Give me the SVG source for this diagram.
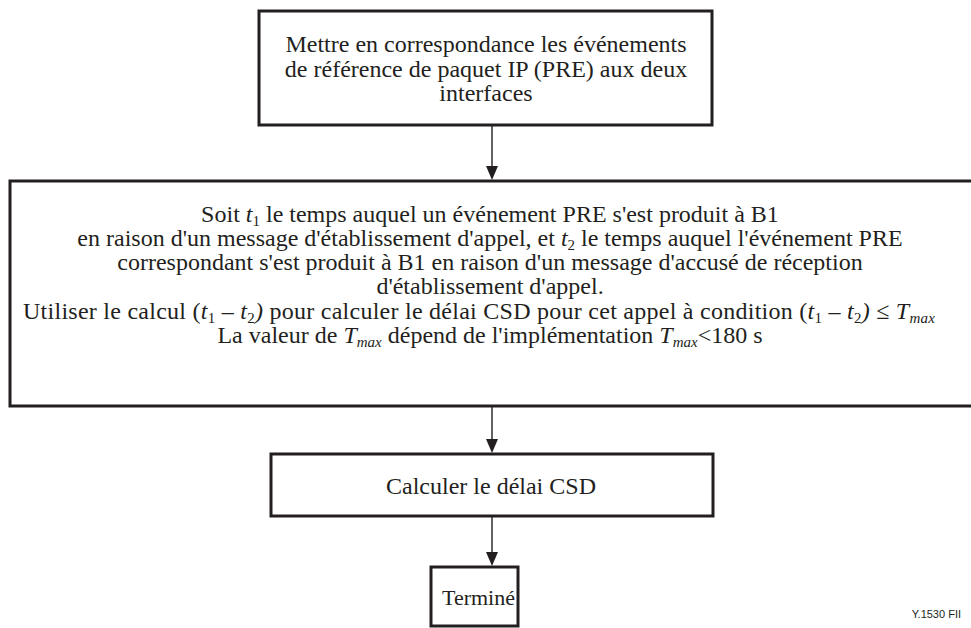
<svg xmlns="http://www.w3.org/2000/svg" width="971" height="628" viewBox="0 0 971 628">
<style>
.box{fill:#fff;stroke:#231f20;stroke-width:3}
.t{font-family:"Liberation Serif","Times New Roman","DejaVu Serif",serif;font-size:24px;fill:#231f20}
.c{text-anchor:middle}
.i{font-style:italic}
.s{font-size:15px}
.conn{stroke:#231f20;stroke-width:1.4;fill:none}
.ah{fill:#231f20}
</style>
<rect width="971" height="628" fill="#fff"/>
<g id="connectors">
<line class="conn" x1="492" y1="125" x2="492" y2="167"/>
<path class="ah" d="M486,166 L498,166 L492,180 Z"/>
<line class="conn" x1="492" y1="406" x2="492" y2="440"/>
<path class="ah" d="M486,439 L498,439 L492,453 Z"/>
<line class="conn" x1="492" y1="516" x2="492" y2="553"/>
<path class="ah" d="M486,552 L498,552 L492,566 Z"/>
</g>
<g id="node1">
<rect class="box" x="259" y="11" width="453" height="114"/>
<text class="t c" x="486" y="52">Mettre en correspondance les événements</text>
<text class="t c" x="486" y="77">de référence de paquet IP (PRE) aux deux</text>
<text class="t c" x="486" y="101">interfaces</text>
</g>
<g id="node2">
<rect class="box" x="10" y="181" width="963" height="225"/>
<text class="t c" x="490" y="222">Soit <tspan class="i">t</tspan><tspan class="s" dy="4">1</tspan><tspan dy="-4"> le temps auquel un événement PRE s'est produit à B1</tspan></text>
<text class="t c" x="490" y="246">en raison d'un message d'établissement d'appel, et <tspan class="i">t</tspan><tspan class="s" dy="4">2</tspan><tspan dy="-4"> le temps auquel l'événement PRE</tspan></text>
<text class="t c" x="490" y="270">correspondant s'est produit à B1 en raison d'un message d'accusé de réception</text>
<text class="t c" x="490" y="294">d'établissement d'appel.</text>
<text class="t c" x="479" y="319" textLength="912" lengthAdjust="spacing">Utiliser le calcul (<tspan class="i">t</tspan><tspan class="s" dy="4">1</tspan><tspan dy="-4"> – </tspan><tspan class="i">t</tspan><tspan class="s" dy="4">2</tspan><tspan class="i" dy="-4">)</tspan> pour calculer le délai CSD pour cet appel à condition (<tspan class="i">t</tspan><tspan class="s" dy="4">1</tspan><tspan dy="-4"> – </tspan><tspan class="i">t</tspan><tspan class="s" dy="4">2</tspan><tspan class="i" dy="-4">)</tspan> ≤ <tspan class="i">T</tspan><tspan class="s i" dy="4">max</tspan></text>
<text class="t c" x="490" y="343">La valeur de <tspan class="i">T</tspan><tspan class="s i" dy="4">max</tspan><tspan dy="-4"> dépend de l'implémentation </tspan><tspan class="i">T</tspan><tspan class="s i" dy="4">max</tspan><tspan dy="-4">&lt;180 s</tspan></text>
</g>
<g id="node3">
<rect class="box" x="271" y="454" width="442" height="62"/>
<text class="t c" x="491" y="494">Calculer le délai CSD</text>
</g>
<g id="node4">
<rect class="box" x="431" y="567" width="87" height="59"/>
<text class="t" x="442" y="605" style="font-size:22px">Terminé</text>
</g>
<text x="961" y="618" text-anchor="end" font-family="Liberation Sans, Arial, sans-serif" font-size="11" fill="#231f20">Y.1530  FII</text>
</svg>
